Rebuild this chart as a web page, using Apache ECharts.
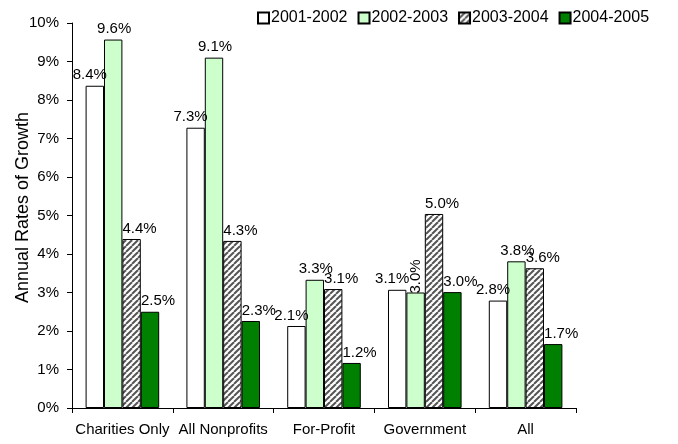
<!DOCTYPE html>
<html><head><meta charset="utf-8">
<script src="https://cdn.jsdelivr.net/npm/echarts@6/dist/echarts.min.js"></script>
<style>html,body{margin:0;padding:0;background:#fff}#c{width:678px;height:444px}</style>
</head><body><div id="c"></div>
<script>
const categories = ['Charities Only', 'All Nonprofits', 'For-Profit', 'Government', 'All'];
const seriesNames = ['2001-2002', '2002-2003', '2003-2004', '2004-2005'];
const s2001 = [8.37, 7.28, 2.13, 3.07, 2.79];
const s2002 = [9.57, 9.10, 3.33, 3.00, 3.81];
const s2003 = [4.39, 4.34, 3.09, 5.04, 3.63];
const s2004 = [2.50, 2.26, 1.17, 3.01, 1.66];
const yTicks = [0, 1, 2, 3, 4, 5, 6, 7, 8, 9, 10];

const FONT = "'Liberation Sans', Arial, sans-serif";

// hatch pattern
const pc = document.createElement('canvas');
pc.width = 6; pc.height = 6;
const g = pc.getContext('2d');
g.fillStyle = '#ffffff'; g.fillRect(0, 0, 6, 6);
g.strokeStyle = '#555555'; g.lineWidth = 2;
for (let k = -6; k <= 12; k += 6) {
  g.beginPath(); g.moveTo(k, 6); g.lineTo(k + 6, 0); g.stroke();
}
const hatch = { image: pc, repeat: 'repeat' };

const fills = ['#ffffff', '#ccffcc', hatch, '#008000'];
const labelShift = [-5, 1, 8, 8];
const data = [s2001, s2002, s2003, s2004];

const chart = echarts.init(document.getElementById('c'), null, { renderer: 'canvas' });
chart.setOption({
  animation: false,
  textStyle: { fontFamily: FONT },
  legend: {
    left: 252, top: 5, itemWidth: 11, itemHeight: 11, itemGap: 10,
    icon: 'rect',
    textStyle: { fontSize: 16, color: '#000', fontFamily: FONT, padding: [0, 0, 0, -3] },
    data: seriesNames
  },
  grid: { left: 72, right: 102, top: 23, bottom: 36, containLabel: false, outerBoundsMode: 'none' },
  xAxis: {
    type: 'category', data: categories,
    axisLine: { lineStyle: { color: '#000', width: 1 } },
    axisTick: { show: true, length: 5, interval: 0, lineStyle: { color: '#000' } },
    axisLabel: { fontSize: 15, color: '#000', margin: 14, interval: 0, fontFamily: FONT }
  },
  yAxis: {
    type: 'value', min: yTicks[0], max: yTicks[yTicks.length - 1], interval: 1,
    name: 'Annual Rates of Growth', nameLocation: 'middle', nameGap: 40, nameMoveOverlap: false,
    nameTextStyle: { fontSize: 18, color: '#000', fontFamily: FONT, padding: [0, 0, 0, 16] },
    axisLine: { show: true, lineStyle: { color: '#000', width: 1 } },
    axisTick: { show: true, length: 5, lineStyle: { color: '#000' } },
    splitLine: { show: false },
    axisLabel: { fontSize: 15, color: '#000', margin: 13, formatter: '{value}%', fontFamily: FONT }
  },
  series: seriesNames.map((n, i) => ({
    name: n, type: 'bar',
    data: data[i].map((v, j) => (i === 1 && j === 3)
      ? { value: v, label: { rotate: 90, align: 'left', verticalAlign: 'middle', distance: 3, offset: [-4, 0] } }
      : v),
    barGap: '0%', barCategoryGap: '27%',
    itemStyle: { color: fills[i], borderColor: '#000', borderWidth: 1 },
    label: {
      show: true, position: 'top', distance: 3, offset: [labelShift[i], 0],
      fontSize: 15, color: '#000', fontFamily: FONT,
      formatter: p => p.value.toFixed(1) + '%'
    }
  }))
});
</script></body></html>
